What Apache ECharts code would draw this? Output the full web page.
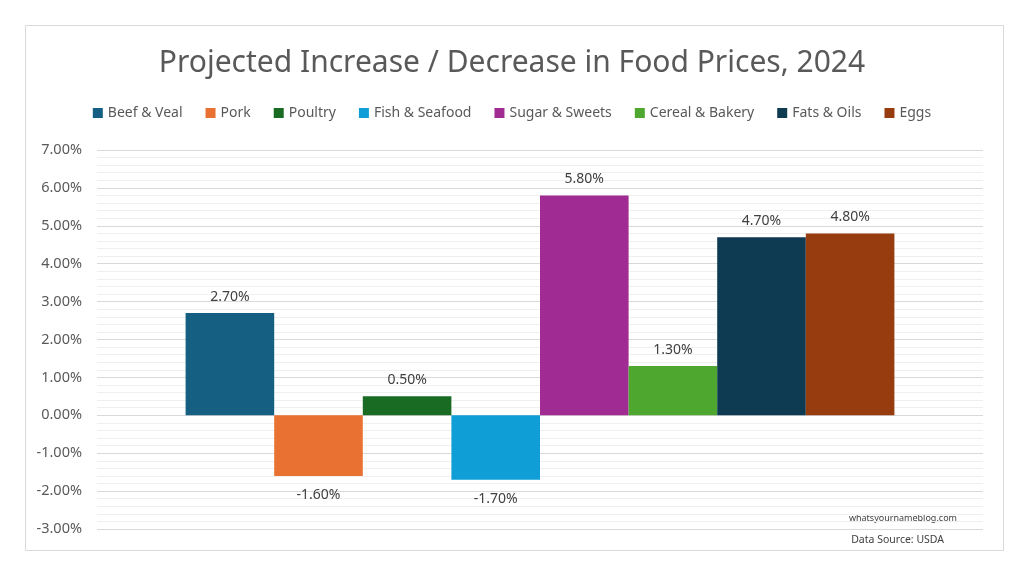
<!DOCTYPE html>
<html>
<head>
<meta charset="utf-8">
<script src="https://cdn.jsdelivr.net/npm/echarts@6/dist/echarts.min.js"></script>
<style>html,body{margin:0;padding:0;background:#fff;}#c{width:1024px;height:576px;}</style>
</head>
<body>
<div id="c"></div>
<script>
const categories = ['2024'];
const seriesNames = ['Beef & Veal','Pork','Poultry','Fish & Seafood','Sugar & Sweets','Cereal & Bakery','Fats & Oils','Eggs'];
const seriesValues = [2.7, -1.6, 0.5, -1.7, 5.8, 1.3, 4.7, 4.8];
const seriesColors = ['#156082','#E97132','#196B24','#0F9ED5','#A02B93','#4EA72E','#0E3A52','#963C0F'];
const yTicks = {min: -3, max: 7, interval: 1};

const FONT = 'Noto Sans';
const chart = echarts.init(document.getElementById('c'));
const series = seriesNames.map((n, i) => ({
  name: n,
  type: 'bar',
  barGap: '0%',
  barCategoryGap: '20%',
  itemStyle: {color: seriesColors[i]},
  data: [seriesValues[i]],
  label: {
    show: true,
    position: seriesValues[i] >= 0 ? 'top' : 'bottom',
    distance: seriesValues[i] >= 0 ? 9 : 12,
    formatter: p => p.value.toFixed(2) + '%',
    color: '#404040',
    fontSize: 14,
    fontFamily: FONT
  }
}));
chart.setOption({
  animation: false,
  backgroundColor: '#fff',
  title: {
    text: 'Projected Increase / Decrease in Food Prices, 2024',
    left: 'center',
    top: 43,
    textStyle: {fontFamily: FONT, fontSize: 30, fontWeight: 'normal', color: '#595959'}
  },
  legend: {
    top: 101,
    left: 'center',
    itemWidth: 10,
    itemHeight: 10,
    itemGap: 23,
    icon: 'rect',
    textStyle: {fontFamily: FONT, fontSize: 14, color: '#595959'},
    data: seriesNames
  },
  grid: {left: 97, right: 41, top: 150, bottom: 47, containLabel: false},
  xAxis: {
    type: 'category',
    data: categories,
    axisLine: {show: false},
    axisTick: {show: false},
    axisLabel: {show: false}
  },
  yAxis: {
    type: 'value',
    min: yTicks.min,
    max: yTicks.max,
    interval: yTicks.interval,
    axisLabel: {
      formatter: v => v.toFixed(2) + '%',
      color: '#595959',
      fontSize: 14.5,
      fontFamily: FONT,
      margin: 15
    },
    axisLine: {show: false},
    axisTick: {show: false},
    splitLine: {lineStyle: {color: '#D9D9D9', width: 1}},
    minorTick: {show: false, splitNumber: 5},
    minorSplitLine: {show: true, lineStyle: {color: '#EFEFEF', width: 1}}
  },
  graphic: [
    {type: 'rect', shape: {x: 25.5, y: 25.5, width: 978, height: 525}, style: {fill: 'none', stroke: '#D9D9D9', lineWidth: 1}, z: -1},
    {type: 'text', right: 1024 - 957, top: 514, style: {text: 'whatsyournameblog.com', fontFamily: FONT, fontSize: 9, fill: '#404040'}},
    {type: 'text', right: 1024 - 944, top: 535, style: {text: 'Data Source: USDA', fontFamily: FONT, fontSize: 10.5, fill: '#404040'}}
  ],
  series: series
});
</script>
</body>
</html>
